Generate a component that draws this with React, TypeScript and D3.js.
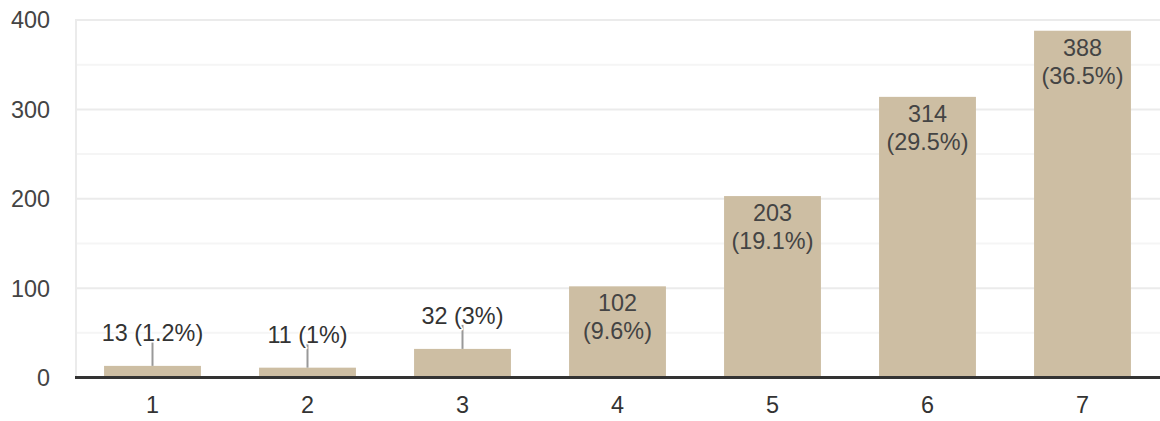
import React from "react";
import * as d3 from "d3";

const categories = ["1", "2", "3", "4", "5", "6", "7"];
const counts = [13, 11, 32, 102, 203, 314, 388];
const percents = ["1.2%", "1%", "3%", "9.6%", "19.1%", "29.5%", "36.5%"];
const yTicks = [0, 100, 200, 300, 400];
const yMinorTicks = [50, 150, 250, 350];

const W = 1160;
const H = 421;
const margin = { left: 75, right: 0, top: 20, bottom: 43 };
const FONT = "Arial, 'Liberation Sans', sans-serif";
const FS = 23.4;

export default function App() {
  const x = d3
    .scaleBand<string>()
    .domain(categories)
    .range([margin.left, W - margin.right])
    .paddingInner(0.375)
    .paddingOuter(0.1875);
  const y = d3.scaleLinear().domain([0, 400]).range([H - margin.bottom - 0.5, margin.top]);

  const inside = (v: number) => v >= 80;

  return (
    <svg
      width={W}
      height={H}
      style={{ position: "absolute", left: 0, top: 0, background: "#fff" }}
      fontFamily={FONT}
    >
      {yMinorTicks.map((t) => (
        <line key={"m" + t} x1={margin.left} x2={W} y1={y(t)} y2={y(t)} stroke="#f5f5f5" strokeWidth={2} />
      ))}
      {yTicks.map((t) => (
        <line key={"g" + t} x1={margin.left} x2={W} y1={y(t)} y2={y(t)} stroke="#ebebeb" strokeWidth={2} />
      ))}
      <line x1={margin.left + 1} x2={margin.left + 1} y1={margin.top - 1} y2={y(0)} stroke="#ebebeb" strokeWidth={2} />
      {yTicks.map((t) => (
        <text
          key={"t" + t}
          x={50}
          y={y(t)}
          dy="0.36em"
          textAnchor="end"
          fontSize={FS}
          fill="#444"
        >
          {t}
        </text>
      ))}
      {categories.map((c, i) => {
        const v = counts[i];
        const bx = x(c)!;
        const bw = x.bandwidth();
        const top = y(v);
        return (
          <rect key={"b" + c} x={bx} y={top} width={bw} height={y(0) - top} fill="#cdbea3" />
        );
      })}
      <line x1={margin.left} x2={W} y1={y(0)} y2={y(0)} stroke="#333" strokeWidth={3} />
      {categories.map((c, i) => {
        const v = counts[i];
        const cx = x(c)! + x.bandwidth() / 2;
        const top = y(v);
        if (inside(v)) {
          return (
            <g key={"l" + c}>
              <text x={cx} y={top + 25} textAnchor="middle" fontSize={FS} fill="#444">
                {v}
              </text>
              <text x={cx} y={top + 53} textAnchor="middle" fontSize={FS} fill="#444">
                ({percents[i]})
              </text>
            </g>
          );
        }
        return (
          <g key={"l" + c}>
            <line x1={cx} x2={cx} y1={top} y2={top - 24} stroke="#999" strokeWidth={2} />
            <text
              x={cx}
              y={top - 25}
              textAnchor="middle"
              fontSize={FS}
              fill="#333"
              stroke="#fff"
              strokeWidth={3}
              strokeLinejoin="round"
              style={{ paintOrder: "stroke" }}
            >
              {v} ({percents[i]})
            </text>
          </g>
        );
      })}
      {categories.map((c) => (
        <text
          key={"x" + c}
          x={x(c)! + x.bandwidth() / 2}
          y={413}
          textAnchor="middle"
          fontSize={FS}
          fill="#333"
        >
          {c}
        </text>
      ))}
    </svg>
  );
}
